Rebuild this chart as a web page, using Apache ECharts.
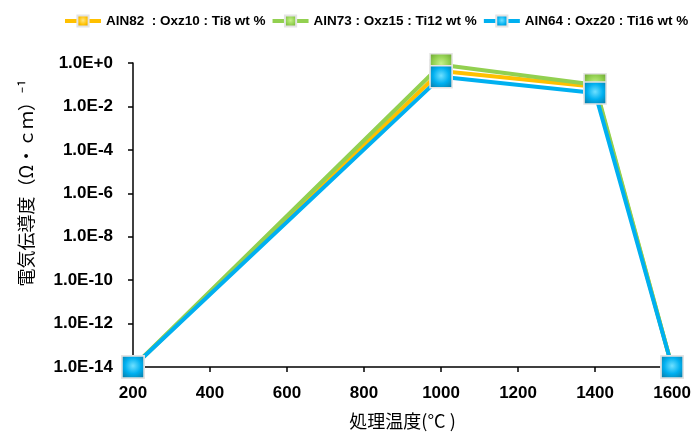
<!DOCTYPE html>
<html>
<head>
<meta charset="utf-8">
<script src="https://cdn.jsdelivr.net/npm/echarts@6/dist/echarts.min.js"></script>
<style>
  html, body { margin: 0; padding: 0; background: #fff; }
  #chart { width: 694px; height: 441px; }
</style>
</head>
<body>
<div id="chart"></div>
<script>
// 処理温度 (x) と 電気伝導度 (y, log)
let temps = [200, 1000, 1400, 1600];
let seriesNames = [
  'AlN82  : Oxz10 : Ti8 wt %',
  'AlN73 : Oxz15 : Ti12 wt %',
  'AlN64 : Oxz20 : Ti16 wt %'
];
let yellowVals = [1e-14, 0.43, 0.08, 1e-14];
let greenVals  = [1e-14, 0.83, 0.10, 1e-14];
let blueVals   = [1e-14, 0.23, 0.042, 1e-14];
let xTicks = [200, 400, 600, 800, 1000, 1200, 1400, 1600];
let yTicks = ['1.0E-14', '1.0E-12', '1.0E-10', '1.0E-8', '1.0E-6', '1.0E-4', '1.0E-2', '1.0E+0'];

let lineColors = ['#FFC000', '#92D050', '#00B0F0'];
// 立体っぽい四角マーカー
let markerFill = [
  ['#ffe680', '#b88a00'],
  ['#c6f08a', '#5a8f22'],
  ['#6fe0ff', '#0a6d92']
];

function pairs(vals){
  return vals.map((v, i) => [temps[i], v]);
}

function mkSeries(idx, vals){
  return {
    name: seriesNames[idx],
    type: 'line',
    data: pairs(vals),
    symbol: 'rect',
    symbolSize: 22,
    clip: false,
    lineStyle: { color: lineColors[idx], width: 4 },
    itemStyle: {
      color: new echarts.graphic.RadialGradient(0.5, 0.45, 0.75, [
        { offset: 0, color: markerFill[idx][0] },
        { offset: 0.45, color: lineColors[idx] },
        { offset: 1, color: markerFill[idx][1] }
      ]),
      borderColor: '#e4e4e4',
      borderWidth: 1.5
    },
    emphasis: { disabled: true }
  };
}

let chart = echarts.init(document.getElementById('chart'));
let option = {
  animation: false,
  legend: {
    left: 58,
    top: 9,
    width: 650,
    itemWidth: 36,
    itemHeight: 14,
    itemGap: 5,
    lineStyle: { width: 4 },
    textStyle: { fontFamily: 'Liberation Sans', fontWeight: 'bold', fontSize: 13.5, color: '#000' },
    data: seriesNames
  },
  grid: { left: 133, right: 18, top: 63, bottom: 74 },
  xAxis: {
    type: 'value',
    min: 200,
    max: 1600,
    interval: 200,
    name: '処理温度(°C )',
    nameLocation: 'middle',
    nameGap: 45,
    nameTextStyle: { fontFamily: 'Noto Sans CJK JP', fontSize: 18, color: '#000' },
    axisLine: { lineStyle: { color: '#000', width: 1.5 } },
    axisTick: { length: 5, lineStyle: { color: '#000', width: 1.5 } },
    axisLabel: {
      margin: 18,
      fontFamily: 'Liberation Sans', fontWeight: 'bold', fontSize: 17, color: '#000',
      formatter: v => xTicks.indexOf(v) >= 0 ? String(v) : ''
    },
    splitLine: { show: false }
  },
  yAxis: {
    type: 'log',
    logBase: 100,
    min: 1e-14,
    max: 1,
    name: '電気伝導度（Ω・ｃｍ）⁻¹',
    nameLocation: 'middle',
    nameGap: 98,
    nameTextStyle: { fontFamily: 'Noto Sans CJK JP', fontSize: 18, color: '#000', padding: [0, 0, 0, 64] },
    axisLine: { show: true, lineStyle: { color: '#000', width: 1.5 } },
    axisTick: { show: true, length: 5, lineStyle: { color: '#000', width: 1.5 } },
    axisLabel: {
      margin: 20,
      fontFamily: 'Liberation Sans', fontWeight: 'bold', fontSize: 17, color: '#000',
      formatter: function(v){
        let e = Math.round(Math.log10(v));
        let i = (e + 14) / 2;
        return yTicks[i] || '';
      }
    },
    splitLine: { show: false }
  },
  series: [
    mkSeries(0, yellowVals),
    mkSeries(1, greenVals),
    mkSeries(2, blueVals)
  ]
};
chart.setOption(option);
</script>
</body>
</html>
